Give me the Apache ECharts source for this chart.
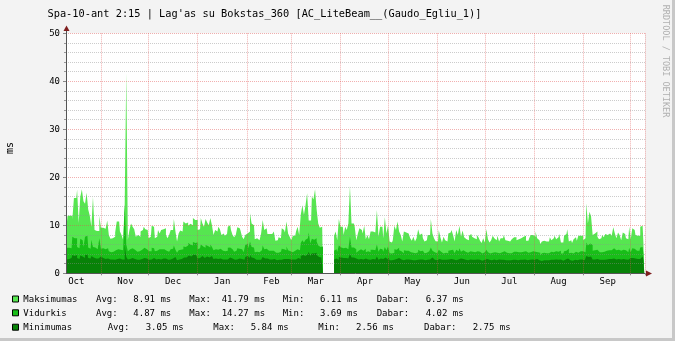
<!DOCTYPE html>
<html>
<head>
<meta charset="utf-8">
<script src="https://cdn.jsdelivr.net/npm/echarts@6/dist/echarts.min.js"></script>
<style>html,body{margin:0;padding:0;background:#f3f3f3;}#c{width:675px;height:341px;}</style>
</head>
<body>
<div id="c"></div>
<script>
// ---- data (daily, 2022-10-10 .. 2023-10-09) ----
const startDate = [2022, 9, 10];
const monthNames = ['Jan','Feb','Mar','Apr','May','Jun','Jul','Aug','Sep','Oct','Nov','Dec'];
const yTicks = [0, 10, 20, 30, 40, 50];
const N = null;
const maxVals = [
10.3,12,12,12,11.2,15.7,15.7,17.4,10.5,15.9,
17.5,15,14.5,16.8,13.3,12,9.7,15.9,9,8.8,
8.8,12,9.5,9.5,9.3,9.6,11,8,7.2,7.3,
7.6,8.5,10.8,10.8,8.7,8,7,14.3,41.79,7,
9,10.4,9.7,9.2,7.6,8,7.6,8.7,9,9.7,
9.2,9,7.3,7.6,9.9,9.7,7.3,7.6,9,8.3,
9,9.2,9.4,8,7.3,8,9,9,11.3,8.7,
6.6,8.3,8.9,8.7,10.8,10.4,10.6,9.9,10.3,10,
11.5,11.1,11.1,9,9.2,11.5,10.4,9.7,11.3,10.6,
10,11.5,10,8,9,8.7,9.7,9.2,8,8.3,
7.8,8.2,9.7,10,9,8,7.5,8,9.6,9.4,
8.9,7.6,7.1,8,8.3,8.7,12.5,10.4,10,7.1,
7.3,6.9,7.3,8.3,11.1,9,9.4,8.2,8.2,8.2,
8.2,8.7,6.8,6.9,7.5,7.3,9.4,9,8.5,10.8,
8.3,7.6,6.9,7.8,7.8,8.7,9.7,8,12.2,14.2,
12.2,14.2,16.7,11,11,16,15.4,17.5,13.3,10.4,
9.5,9.7,N,N,N,N,N,N,N,7.8,
8.7,6.9,11.3,9.7,9.7,8,9.7,9,10.4,18.2,
10.4,10.4,9.7,6.9,8.3,9.4,9,8.3,9.9,7.1,
8,7.1,8.7,8.7,8.5,8.3,13.2,7.6,9.7,9.7,
7.3,11.7,8.3,10,6.6,6.4,6.9,9.9,9,10.8,
8.7,8,6.6,8.7,8.5,8.3,8.2,7.3,6.8,7.6,
6.6,7.3,9.2,8,8.3,7.3,6.6,6.9,8,8,
11.3,8.3,7.3,6.7,6.6,9,7.5,6.4,7.6,6.9,
6.6,8.3,8.5,9,8,6.6,9,8,9.9,7.6,
8.9,7.5,7.1,6.9,7.8,8.2,7.6,7.3,7.1,8,
7.5,6.8,6.3,7.3,6.4,9.2,7.1,6.4,6.9,7.8,
7.3,6.9,7.8,6.6,7.3,7.3,8,6.9,6.8,6.6,
6.6,7.1,7.5,7.5,6.9,7.1,7.3,7.3,7.6,7.8,
6.8,6.8,7.3,8,8,7.6,8.7,7.3,6.9,6.11,
6.6,6.8,6.6,6.6,6.6,7.5,6.9,7.3,7.8,7.1,
7.5,8.2,6.4,6.4,7.8,8.2,9.2,6.6,6.9,6.3,
7.1,7.5,6.8,7.8,7.8,7.8,6.9,7.3,14.6,10.4,
12.8,11.9,8,8.3,8.7,7.6,7.1,7.3,8,7.5,
8.2,8,8.3,8.3,7.8,9.6,8.3,7.3,8.5,8,
6.9,8.5,8.2,7.3,7.1,9.7,7.1,9.4,9,8,
7.8,7.8,9.7,9.9,6.37];
const avgVals = [
5.3,5.3,5.4,5.2,7.6,7.3,7.3,5.5,5.2,7.2,
6.9,5.5,7.6,7.8,5.4,5.1,7,5.5,5.4,5,
5,7.3,5.1,5.2,5,5.1,5.2,4.6,4.4,4.5,
4.5,4.8,5,5.2,4.9,4.8,4.6,14.27,6,4.6,
5,5.2,5,4.9,4.5,4.7,4.6,4.9,5,5.3,
5,5.1,4.6,4.6,5.3,5.2,4.6,4.7,5,4.8,
5,5,5.1,4.7,4.5,4.7,5,5.1,5.8,4.9,
4.3,4.8,4.9,5,5.6,5.5,5.8,6.3,6,5.8,
6.5,6.3,6.4,5,5.2,6,5.6,5.3,5.9,5.7,
5.4,6,5.5,4.8,5,4.9,5.3,5.1,4.7,4.8,
4.6,4.7,5.3,5.4,5,4.7,4.5,4.7,5.2,5.1,
5,4.6,4.4,5.9,6.2,5.2,6.6,5.5,5.4,4.4,
4.5,4.4,4.5,4.8,5.8,5,5.1,4.7,4.7,4.7,
4.7,4.9,4.3,4.3,4.5,4.5,5.1,5,4.8,5.6,
4.8,4.6,4.4,4.6,4.7,5,5.3,4.8,6.3,6.9,
6.4,7,7.3,8.5,6.2,7.2,7,7.3,6.6,5.8,
5.5,5.6,N,N,N,N,N,N,N,4.7,
5,4.5,5.8,5.4,5.2,4.8,5.3,5,5.4,7.6,
5.4,5.4,5,4.3,4.7,5,4.9,4.7,5.1,4.4,
4.6,4.4,4.9,4.9,4.8,4.7,6,4.5,5.1,5,
4.5,5.5,4.8,5.6,4.2,4.1,4.3,5,4.9,5.3,
4.8,4.6,4.2,4.8,4.7,4.7,4.6,4.4,4.3,4.5,
4.2,4.4,4.9,4.6,4.7,4.4,4.2,4.3,4.6,4.6,
5.4,4.7,4.4,4.2,4.2,4.9,4.5,4.1,4.5,4.3,
4.2,4.7,4.8,4.9,4.6,4.2,4.9,4.6,5.2,4.5,
4.8,4.5,4.4,4.3,4.6,4.7,4.5,4.4,4.4,4.6,
4.5,4.3,4.1,4.4,4.1,4.9,4.4,4.1,4.3,4.6,
4.4,4.3,4.6,4.2,4.4,4.4,4.6,4.3,4.3,4.2,
4.2,4.4,4.5,4.5,4.3,4.4,4.4,4.4,4.5,4.6,
4.3,4.3,4.4,4.6,4.6,4.5,4.9,4.4,4.3,3.69,
4.2,4.3,4.2,4.2,4.2,4.5,4.3,4.4,4.6,4.4,
4.5,4.7,4.1,4.1,4.6,4.7,5.1,4.2,4.3,4.1,
4.4,4.5,4.3,4.6,4.6,4.6,4.3,4.4,6.4,5.8,
6.2,5.9,4.7,4.8,4.9,4.5,4.4,4.4,4.6,4.5,
4.7,4.6,4.8,4.8,4.6,5.2,4.8,4.4,4.9,4.7,
4.3,4.9,4.8,4.4,4.4,5.3,4.4,5.2,5.1,4.7,
4.7,4.7,5.4,5.5,4.02];
const minVals = [
2.9,3,2.9,3.2,3.8,3.6,3.8,3.2,3,3.7,
3.5,3.2,3.8,3.9,3.2,3.1,3.6,3.3,3.1,3,
3.1,3.5,3.1,3.2,3,3.1,3.1,2.9,2.8,2.9,
2.8,2.9,3,3.1,3,2.9,2.9,5.84,3.4,2.9,
3,3.2,3.1,3,2.8,2.9,2.8,3,3.1,3.2,
3.1,3.1,2.8,2.9,3.2,3.2,2.9,2.9,3,2.9,
3,3.1,3.1,2.9,2.8,2.9,3,3.1,3.4,3,
2.7,2.9,3,3,3.3,3.3,3.4,3.7,3.5,3.4,
3.9,3.8,4,3.1,3.2,3.6,3.4,3.2,3.5,3.4,
3.3,3.6,3.3,3,3.1,3,3.2,3.1,2.9,3,
2.9,2.9,3.2,3.3,3.1,2.9,2.8,2.9,3.2,3.1,
3,2.9,2.8,3.4,3.6,3.2,3.8,3.3,3.2,2.8,
2.8,2.8,2.8,3,3.4,3.1,3.1,2.9,2.9,2.9,
2.9,3,2.7,2.7,2.8,2.8,3.1,3,3,3.3,
3,2.9,2.8,2.9,2.9,3,3.2,3,3.6,3.8,
3.6,3.9,4,4.5,3.6,4.2,4.1,4.3,3.8,3.4,
3.3,3.3,N,N,N,N,N,N,N,2.9,
3.1,2.8,3.4,3.3,3.2,3,3.2,3.1,3.3,4,
3.3,3.3,3.1,2.7,2.9,3,3,2.9,3.1,2.8,
2.9,2.8,3,3,2.9,2.9,3.5,2.8,3.1,3,
2.8,3.3,2.9,3.4,2.7,2.7,2.8,3,3,3.2,
2.9,2.9,2.7,2.9,2.9,2.9,2.8,2.8,2.7,2.8,
2.7,2.8,3,2.9,2.9,2.8,2.7,2.8,2.9,2.9,
3.3,2.9,2.8,2.7,2.7,3,2.8,2.7,2.8,2.8,
2.7,2.9,3,3,2.9,2.7,3,2.9,3.1,2.8,
3,2.8,2.8,2.7,2.9,2.9,2.8,2.8,2.8,2.9,
2.8,2.7,2.6,2.8,2.6,3,2.8,2.6,2.7,2.9,
2.8,2.7,2.9,2.7,2.8,2.8,2.9,2.7,2.7,2.7,
2.7,2.8,2.8,2.8,2.7,2.8,2.8,2.8,2.8,2.9,
2.7,2.7,2.8,2.9,2.9,2.8,3,2.8,2.7,2.56,
2.7,2.7,2.7,2.7,2.7,2.8,2.7,2.8,2.9,2.8,
2.8,2.9,2.6,2.6,2.9,2.9,3.1,2.7,2.7,2.6,
2.8,2.8,2.7,2.9,2.9,2.9,2.7,2.8,3.6,3.4,
3.5,3.4,2.9,2.9,3,2.8,2.8,2.8,2.9,2.8,
2.9,2.9,3,3,2.9,3.1,2.9,2.8,3,2.9,
2.7,3,2.9,2.8,2.8,3.2,2.8,3.2,3.1,2.9,
3,3,3.4,3.5,2.75];

const legendNames = ['Maksimumas', 'Vidurkis', 'Minimumas'];
const legendAvg = ['8.91 ms', '4.87 ms', '3.05 ms'];
const legendMax = ['41.79 ms', '14.27 ms', '5.84 ms'];
const legendMin = ['6.11 ms', '3.69 ms', '2.56 ms'];
const legendCur = ['6.37 ms', '4.02 ms', '2.75 ms'];
const titleText = "Spa-10-ant 2:15 | Lag'as su Bokstas_360 [AC_LiteBeam__(Gaudo_Egliu_1)]";

// ---- categories ----
const days = [];
{
  const t0 = Date.UTC(startDate[0], startDate[1], startDate[2]);
  for (let i = 0; i < maxVals.length; i++) {
    const d = new Date(t0 + i * 86400000);
    const mm = String(d.getUTCMonth() + 1).padStart(2, '0');
    const dd = String(d.getUTCDate()).padStart(2, '0');
    days.push(d.getUTCFullYear() + '-' + mm + '-' + dd);
  }
}

const colMax = '#56e650', colAvg = '#18be18', colMin = '#088208';
const FONT = '"DejaVu Sans Mono", monospace';

const chart = echarts.init(document.getElementById('c'), null, {renderer: 'canvas'});

function areaSeries(name, data, color) {
  return {
    name, type: 'line', data, step: 'middle', symbol: 'none', showSymbol: false,
    connectNulls: false, silent: true, animation: false,
    lineStyle: {width: 0, color}, itemStyle: {color},
    areaStyle: {color, opacity: 1}, z: 2
  };
}

// legend graphic
const g = [];
g.push({type: 'rect', shape: {x: 672, y: 0, width: 3, height: 341}, style: {fill: '#c8c8c8'}, silent: true});
g.push({type: 'rect', shape: {x: 0, y: 338, width: 675, height: 3}, style: {fill: '#c8c8c8'}, silent: true});
g.push({type: 'text', x: 47.5, y: 14, style: {text: titleText, font: '10.3px ' + FONT, fill: '#000', align: 'left', verticalAlign: 'middle'}});
g.push({type: 'text', x: 10.5, y: 148, rotation: Math.PI / 2, style: {text: 'ms', font: '10px ' + FONT, fill: '#000', align: 'center', verticalAlign: 'middle'}});
g.push({type: 'text', x: 665, y: 61, rotation: -Math.PI / 2, style: {text: 'RRDTOOL / TOBI OETIKER', font: '8.5px ' + FONT, fill: '#b0b0b0', align: 'center', verticalAlign: 'middle'}});
// arrows
g.push({type: 'polygon', shape: {points: [[63.5, 31], [66.5, 25.5], [69.5, 31]]}, style: {fill: '#7f1f1f'}});
g.push({type: 'line', shape: {x1: 66.5, y1: 31, x2: 66.5, y2: 34}, style: {stroke: '#555', lineWidth: 1}});
g.push({type: 'polygon', shape: {points: [[646, 270.5], [652, 273.5], [646, 276.5]]}, style: {fill: '#7f1f1f'}});
const legendColors = [colMax, colAvg, colMin];
const rowY = [299.5, 313.3, 327.7];
const cols = [
  [96, 133.3, 189.3, 221.7, 282.7, 320, 376.7, 425.7],
  [96, 133.3, 189.3, 221.7, 282.7, 320, 376.7, 425.7],
  [107.7, 145.7, 213.3, 250.7, 318.3, 356, 424, 472.7]
];
for (let r = 0; r < 3; r++) {
  const y = rowY[r];
  g.push({type: 'rect', shape: {x: 12.5, y: y - 3.5, width: 6, height: 6}, style: {fill: legendColors[r], stroke: '#000', lineWidth: 1}});
  const items = [legendNames[r], 'Avg:', legendAvg[r], 'Max:', legendMax[r], 'Min:', legendMin[r], 'Dabar:', legendCur[r]];
  const xs = [23.3].concat(cols[r]);
  for (let k = 0; k < items.length; k++) {
    g.push({type: 'text', x: xs[k], y: y, style: {text: items[k], font: '9px ' + FONT, fill: '#000', align: 'left', verticalAlign: 'middle'}});
  }
}

const option = {
  animation: false,
  backgroundColor: '#f3f3f3',
  grid: {left: 66, top: 33.3, width: 579, height: 240, show: true, backgroundColor: '#ffffff', borderWidth: 0, containLabel: false},
  xAxis: {
    type: 'category', data: days, boundaryGap: true, z: 10,
    axisLine: {show: true, lineStyle: {color: '#555', width: 1}},
    axisTick: {show: true, length: 2, interval: (i, v) => v.slice(8) === '01', lineStyle: {color: '#888'}},
    axisLabel: {
      show: true, interval: (i, v) => v.slice(8) === '16', margin: 4,
      formatter: v => monthNames[parseInt(v.slice(5, 7), 10) - 1],
      fontFamily: FONT, fontSize: 9, color: '#000'
    },
    splitLine: {show: true, interval: (i, v) => v.slice(8) === '01', lineStyle: {color: 'rgba(225,80,80,0.45)', width: 1, type: [1, 1]}}
  },
  yAxis: {
    type: 'value', min: yTicks[0], max: yTicks[yTicks.length - 1], interval: 10, z: 10,
    axisLine: {show: true, lineStyle: {color: '#555', width: 1}},
    axisTick: {show: true, length: 3, lineStyle: {color: '#888'}},
    minorTick: {show: true, splitNumber: 5, length: 2, lineStyle: {color: '#999'}},
    axisLabel: {fontFamily: FONT, fontSize: 9, color: '#000', margin: 6},
    splitLine: {show: true, lineStyle: {color: 'rgba(225,80,80,0.45)', width: 1, type: [1, 1]}},
    minorSplitLine: {show: true, lineStyle: {color: 'rgba(143,143,143,0.45)', width: 1, type: [1, 1]}}
  },
  series: [
    areaSeries('Maksimumas', maxVals, colMax),
    areaSeries('Vidurkis', avgVals, colAvg),
    areaSeries('Minimumas', minVals, colMin)
  ],
  graphic: g
};
chart.setOption(option);
</script>
</body>
</html>
